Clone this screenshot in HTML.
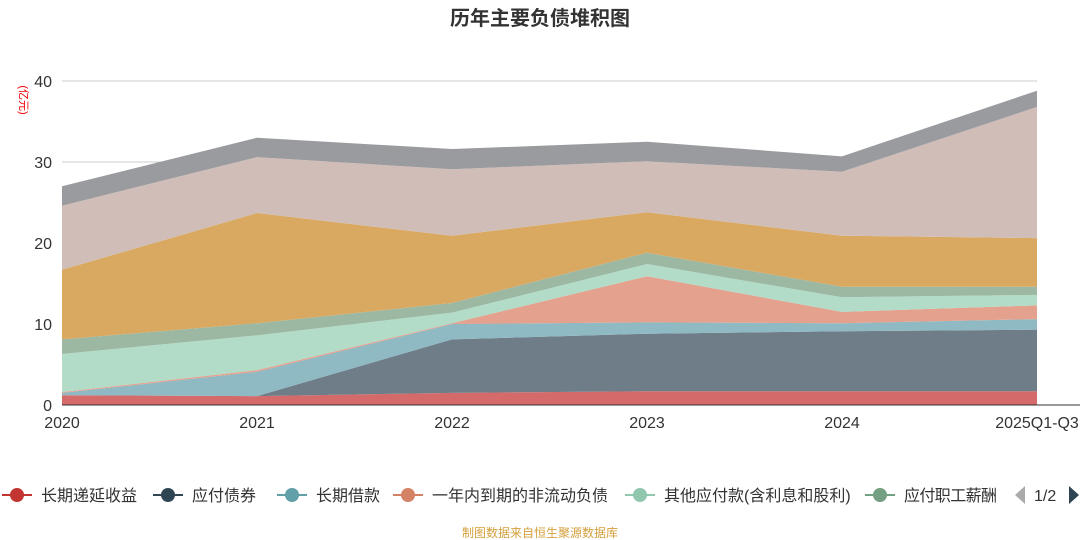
<!DOCTYPE html>
<html><head><meta charset="utf-8"><style>
body{margin:0;background:#fff;width:1080px;height:540px;overflow:hidden;font-family:"Liberation Sans","Noto Sans CJK SC",sans-serif}
</style></head><body>
<svg id="c" width="1080" height="540" style="position:absolute;left:0;top:0">
<text x="540" y="25" text-anchor="middle" font-size="20" font-weight="bold" fill="#333" font-family="Liberation Sans,Noto Sans CJK SC,sans-serif">历年主要负债堆积图</text>
<text x="20" y="100" font-size="11" fill="#e00" transform="rotate(90 20 100)" text-anchor="middle" font-family="Liberation Sans,Noto Sans CJK SC,sans-serif">(亿元)</text>
<g id="grid"></g><g id="areas"></g><g id="axes"></g><g id="legend"></g>
<text x="540" y="537" text-anchor="middle" font-size="12" fill="#d4a03c" font-family="Liberation Sans,Noto Sans CJK SC,sans-serif">制图数据来自恒生聚源数据库</text>
</svg>
<script>
const categories=["2020","2021","2022","2023","2024","2025Q1-Q3"];
const yTicks=[0,10,20,30,40];
const seriesNames=["长期递延收益","应付债券","长期借款","一年内到期的非流动负债","其他应付款(含利息和股利)","应付职工薪酬","短期借款","应付账款","其他"];
const s0=[1.2,1.1,1.5,1.7,1.7,1.7];
const s1=[0,0,6.6,7.1,7.4,7.6];
const s2=[0.3,3.0,1.9,1.4,1.0,1.3];
const s3=[0.1,0.2,0.1,5.7,1.4,1.7];
const s4=[4.7,4.3,1.3,1.5,1.8,1.3];
const s5=[1.8,1.5,1.2,1.4,1.3,1.0];
const s6=[8.6,13.6,8.3,5.0,6.3,6.0];
const s7=[7.9,6.9,8.2,6.3,7.9,16.2];
const s8=[2.4,2.4,2.5,2.4,1.9,2.0];
const series=[s0,s1,s2,s3,s4,s5,s6,s7,s8];
const fills=["#d46a6a","#6e7d88","#8fb9c3","#e3a18e","#b2dcc8","#9cb8a2","#d9a962","#d0bdb7","#9a9b9f"];
const legendColors=["#c23531","#2f4554","#61a0a8","#d48265","#91c7ae","#749f83"];
const NS="http://www.w3.org/2000/svg";
const x0=62,x1=1037,yb=405,yt=81,ymax=40;
const X=i=>x0+(x1-x0)*i/(categories.length-1);
const Y=v=>yb-(yb-yt)*v/ymax;
function mk(t,a,p){const e=document.createElementNS(NS,t);for(const k in a)e.setAttribute(k,a[k]);p.appendChild(e);return e;}
const grid=document.getElementById('grid'),axes=document.getElementById('axes'),areas=document.getElementById('areas'),leg=document.getElementById('legend');
yTicks.forEach(v=>{
 const l=mk('line',{x1:x0,x2:x1,y1:Y(v),y2:Y(v),stroke:'#ccc'},grid);
 
 
 const t=mk('text',{x:52,y:Y(v)+6,'text-anchor':'end','font-size':16,fill:'#333'},axes);t.textContent=v;
 
 
});
let cum=categories.map(()=>0);
series.forEach((s,k)=>{
 const lo=cum.slice();const hi=cum.map((c,i)=>c+s[i]);
 let d='M'+hi.map((v,i)=>X(i)+','+Y(v)).join('L')+'L'+lo.map((v,i)=>[X(i),Y(v)]).reverse().map(p=>p.join(',')).join('L')+'Z';
 const p=mk('path',{d:d,fill:fills[k]},areas);
 
 
 cum=hi;
});
mk('line',{x1:x0,x2:x1+43,y1:yb,y2:yb,stroke:'#333'},axes);
categories.forEach((c,i)=>{
 const t=mk('text',{x:X(i),y:428,'text-anchor':'middle','font-size':16,fill:'#333'},axes);t.textContent=c;
 
 
});
const lx=[2,153,277,393,625,865];
legendColors.forEach((col,i)=>{
 const g=mk('g',{},leg);
 
 
 mk('line',{x1:lx[i],x2:lx[i]+30,y1:495,y2:495,stroke:col,'stroke-width':2},g);
 mk('circle',{cx:lx[i]+15,cy:495,r:7,fill:col},g);
 const t=mk('text',{x:lx[i]+39,y:501,'font-size':16,fill:'#333'},g);t.textContent=seriesNames[i];
});
leg.lastChild.lastChild.setAttribute('textLength','93');
mk('rect',{x:1000,y:480,width:12,height:30,fill:'#fff'},leg);
const pl=mk('path',{d:'M1025,486L1015,495L1025,504Z',fill:'#aaa'},leg);


const pt=mk('text',{x:1034,y:501,'font-size':16,fill:'#333'},leg);pt.textContent='1/2';


const pn=mk('path',{d:'M1069,486L1079,495L1069,504Z',fill:'#2f4554'},leg);


</script>
</body></html>
